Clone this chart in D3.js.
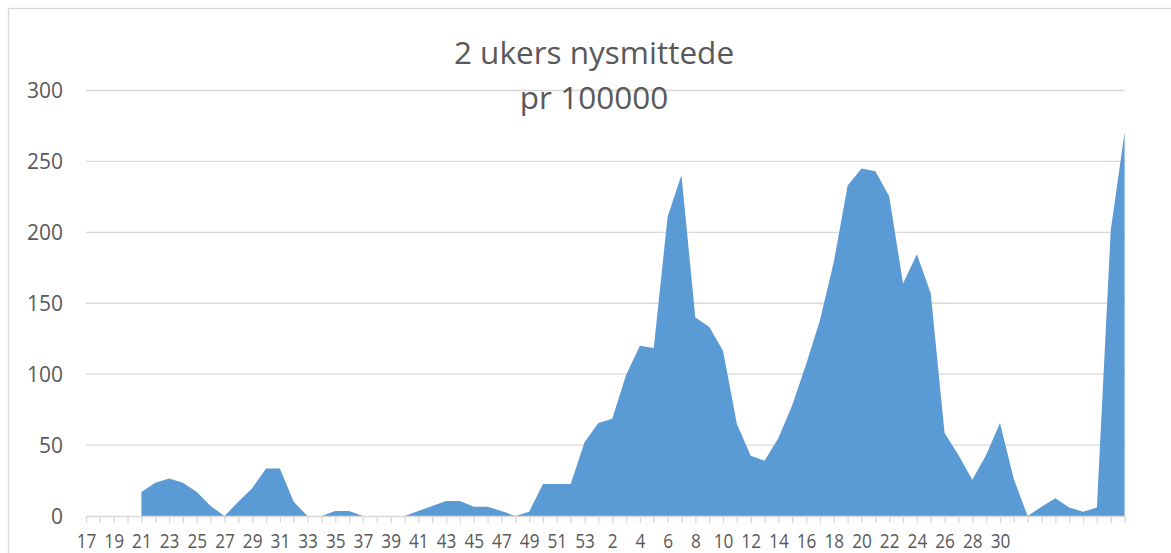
<!DOCTYPE html>
<html>
<head>
<meta charset="utf-8">
<script src="https://cdn.jsdelivr.net/npm/d3@7/dist/d3.min.js"></script>
<style>
  html, body { margin: 0; padding: 0; background: #fff; }
  svg { display: block; font-family: "Open Sans", "DejaVu Sans", sans-serif; }
</style>
</head>
<body>
<svg id="chart" width="1171" height="553"></svg>
<script>
// Week labels (category axis), 76 categories
const weeksA = d3.range(17, 54).map(String);        // 17..53
const weeksB = d3.range(1, 31).map(String);         // 1..30
const weeksC = ["", "", "", "", "", "", "", "", ""]; // unlabeled trailing weeks
const weekLabels = weeksA.concat(weeksB, weeksC);

// 2-week new cases per 100000 (null = no data)
const values = [
  null, null, null, null, 17, 23.5, 26.5, 23.5, 17, 7,
  0, 10, 19.5, 33.5, 33.5, 10, 0, 0, 3.5, 3.5,
  0, 0, 0, 0, 3.5, 7, 10.5, 10.5, 6.6, 6.6,
  3.5, 0, 3, 22.5, 22.5, 22.5, 52, 65.5, 68.5, 99.5,
  120, 118.5, 211, 240.5, 140, 133.5, 116.5, 65, 42.5, 39,
  55, 78, 107, 138, 179, 233, 245, 243, 225.5, 164,
  184.5, 157, 58.5, 43, 25.5, 43, 65.5, 26, 0, 6.5,
  12.5, 6, 3, 6, 201.5, 270.5
];

const yTicks = [0, 50, 100, 150, 200, 250, 300];
const titleLines = ["2 ukers nysmittede", "pr 100000"];

const svg = d3.select("#chart");
const plotLeft = 86, plotRight = 1124.6, plotTop = 90.5, plotBottom = 516;
const grid = "#d9d9d9";

// chart border
svg.append("rect")
  .attr("x", 8.5).attr("y", 8.5)
  .attr("width", 1200).attr("height", 600)
  .attr("fill", "none").attr("stroke", grid).attr("stroke-width", 1.3);

const idx = d3.range(weekLabels.length);
const x = d3.scalePoint().domain(idx).range([plotLeft, plotRight]);
const y = d3.scaleLinear().domain([0, 300]).range([plotBottom, plotTop]);

// gridlines
svg.append("g")
  .selectAll("line")
  .data(yTicks.filter(d => d > 0))
  .join("line")
  .attr("x1", plotLeft).attr("x2", plotRight + 0.5)
  .attr("y1", d => y(d)).attr("y2", d => y(d))
  .attr("stroke", grid).attr("stroke-width", 1.3);

// y labels
svg.append("g")
  .selectAll("text")
  .data(yTicks)
  .join("text")
  .attr("x", 63)
  .attr("y", d => y(d) + 7.8)
  .attr("text-anchor", "end")
  .attr("font-size", 21)
  .attr("fill", "#595959")
  .text(d => d);

// area
const area = d3.area()
  .defined(d => d != null)
  .x((d, i) => x(i))
  .y0(y(0))
  .y1(d => y(d));

svg.append("path")
  .datum(values)
  .attr("d", area)
  .attr("fill", "#5B9BD5");

// x axis
const xAxis = d3.axisBottom(x)
  .tickSize(7)
  .tickFormat(i => (i % 2 === 0 ? weekLabels[i] : ""));

const gx = svg.append("g")
  .attr("transform", `translate(0,${plotBottom})`)
  .call(xAxis);
gx.select(".domain").attr("stroke", grid).attr("stroke-width", 1.3)
  .attr("d", `M${plotLeft},0.5H${plotRight}`);
gx.selectAll(".tick line").attr("stroke", grid).attr("stroke-width", 1.3);
gx.selectAll(".tick text")
  .attr("font-size", 20.5)
  .attr("font-family", "\"Open Sans\", sans-serif")
  .attr("fill", "#595959")
  .attr("dy", null)
  .attr("y", 32)
  .attr("transform", "scale(0.84,1)");

// title
svg.append("g")
  .selectAll("text")
  .data(titleLines)
  .join("text")
  .attr("x", 594)
  .attr("y", (d, i) => 64 + i * 44.5)
  .attr("text-anchor", "middle")
  .attr("font-size", 31.5)
  .attr("fill", "#595959")
  .text(d => d);
</script>
</body>
</html>
